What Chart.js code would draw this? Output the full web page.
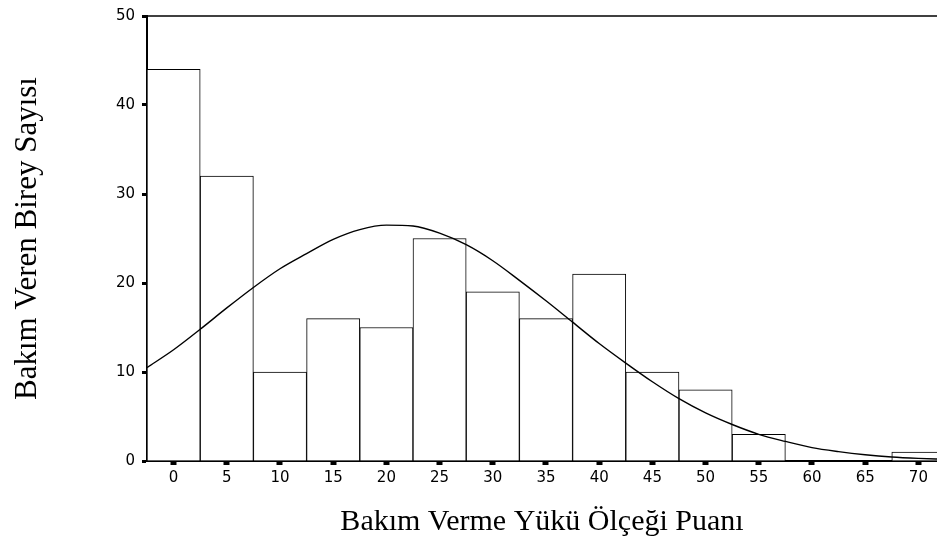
<!DOCTYPE html>
<html lang="tr">
<head>
<meta charset="utf-8">
<title>Bakım Verme Yükü</title>
<script src="https://cdn.jsdelivr.net/npm/chart.js@4.4.1/dist/chart.umd.min.js"></script>
<style>
    html, body { margin: 0; padding: 0; background: #fff; }
    canvas { display: block; }
</style>
</head>
<body>
<canvas id="histogram" width="937" height="548"></canvas>
<script>
// histogram: puan grubu (orta nokta) ve birey sayısı
const puanlar = [0, 5, 10, 15, 20, 25, 30, 35, 40, 45, 50, 55, 60, 65, 70];
const kisiSayisi = [44, 32, 10, 16, 15, 25, 19, 16, 21, 10, 8, 3, 0, 0, 1];

// normal eğri, resimden okunan noktalar
const egriX = [-2.5, 0, 2.5, 5, 7.5, 10, 12.5, 15, 17.5, 20, 22.5, 25, 27.5, 30, 32.5, 35,
    37.5, 40, 42.5, 45, 47.5, 50, 52.5, 55, 57.5, 60, 62.5, 65, 67.5, 70, 72.5];
const egriY = [10.5, 12.5, 14.8, 17.2, 19.5, 21.6, 23.3, 24.9, 26.0, 26.5, 26.4, 25.6, 24.3, 22.5, 20.3, 18.0,
    15.6, 13.2, 11.0, 8.9, 7.0, 5.4, 4.1, 3.0, 2.2, 1.5, 1.05, 0.7, 0.45, 0.3, 0.2];

const yMin = 0, yMax = 50, yAdim = 10;
const xMin = -2.5, xMax = 71.75, xAdim = 5;

Chart.defaults.color = '#000';
Chart.defaults.font.family = '"DejaVu Sans", Arial, sans-serif';

// üst çerçeve çizgisi
const ustCizgi = {
    id: 'ustCizgi',
    afterDraw(chart) {
        const { ctx, chartArea } = chart;
        ctx.save();
        ctx.strokeStyle = '#000';
        ctx.lineWidth = 1.6;
        ctx.beginPath();
        ctx.moveTo(chartArea.left, chartArea.top);
        ctx.lineTo(chartArea.right, chartArea.top);
        ctx.stroke();
        ctx.restore();
    }
};

const ctx = document.getElementById('histogram').getContext('2d');
new Chart(ctx, {
    type: 'bar',
    data: {
        datasets: [
            {
                type: 'line',
                data: egriX.map((x, i) => ({ x: x, y: egriY[i] })),
                borderColor: '#000',
                borderWidth: 1.4,
                pointRadius: 0,
                cubicInterpolationMode: 'monotone',
                fill: false,
                order: 0
            },
            {
                type: 'bar',
                data: puanlar.map((x, i) => ({ x: x, y: kisiSayisi[i] })),
                backgroundColor: '#fff',
                borderColor: '#000',
                borderWidth: 1,
                borderSkipped: 'start',
                barPercentage: 1,
                categoryPercentage: 1,
                order: 1
            }
        ]
    },
    options: {
        responsive: false,
        animation: false,
        devicePixelRatio: 1,
        layout: { padding: { top: 16, right: 0, bottom: 0, left: 0 } },
        plugins: {
            legend: { display: false },
            tooltip: { enabled: false }
        },
        scales: {
            x: {
                type: 'linear',
                min: xMin,
                max: xMax,
                offset: false,
                afterFit: (scale) => { scale.height = 87; },
                border: { display: true, color: '#000', width: 2 },
                grid: {
                    offset: false,
                    drawOnChartArea: false,
                    drawTicks: true,
                    tickLength: 4,
                    tickWidth: 6,
                    tickColor: '#000'
                },
                ticks: {
                    stepSize: xAdim,
                    includeBounds: false,
                    maxRotation: 0,
                    autoSkip: false,
                    padding: 4,
                    font: { size: 15 },
                    color: '#000'
                },
                title: {
                    display: true,
                    text: 'Bakım Verme Yükü Ölçeği Puanı',
                    font: { family: '"Liberation Serif", "Times New Roman", serif', size: 30 },
                    color: '#000',
                    padding: { top: 0, bottom: 8 }
                }
            },
            y: {
                min: yMin,
                max: yMax,
                afterFit: (scale) => { scale.width = 147; },
                border: { display: true, color: '#000', width: 2 },
                grid: {
                    drawOnChartArea: false,
                    drawTicks: true,
                    tickLength: 5,
                    tickWidth: 3,
                    tickColor: '#000'
                },
                ticks: {
                    stepSize: yAdim,
                    padding: 7,
                    font: { size: 15 },
                    color: '#000'
                },
                title: {
                    display: true,
                    text: 'Bakım Veren Birey Sayısı',
                    font: { family: '"Liberation Serif", "Times New Roman", serif', size: 31 },
                    color: '#000',
                    padding: { top: 9, bottom: 0 }
                }
            }
        }
    },
    plugins: [ustCizgi]
});
</script>
</body>
</html>
